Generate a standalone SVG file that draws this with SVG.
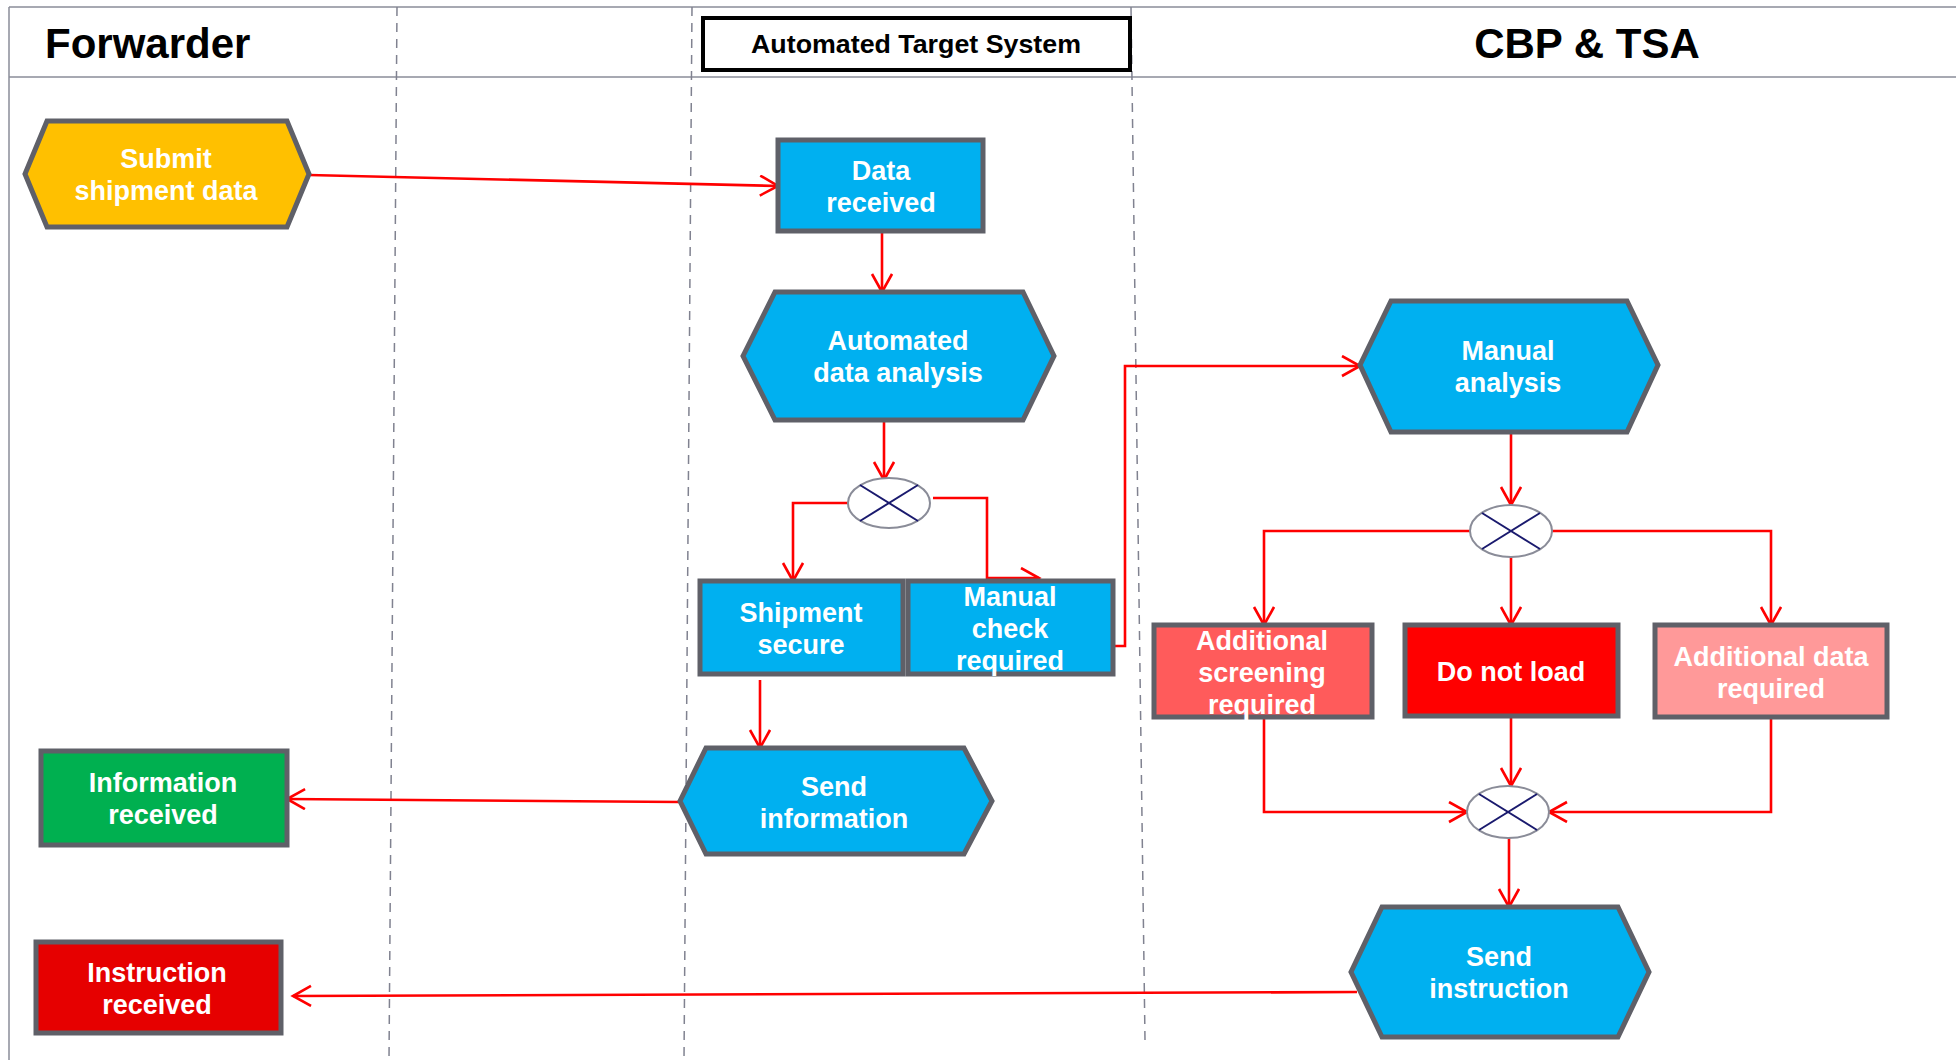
<svg xmlns="http://www.w3.org/2000/svg" width="1956" height="1060" viewBox="0 0 1956 1060">
<style>
.lane{stroke:#8a8c98;stroke-width:1.5;fill:none}
.dash{stroke:#808290;stroke-width:1.5;stroke-dasharray:9,7;fill:none}
.node{stroke:#5f6068;stroke-width:5;stroke-linejoin:miter}
.blue{fill:#00b0f0}
.t{font-family:"Liberation Sans",Arial,sans-serif;font-weight:bold;font-size:27px;fill:#ffffff;text-anchor:middle}
.h{font-family:"Liberation Sans",Arial,sans-serif;font-weight:bold;fill:#000000}
.con{stroke:#ff0000;stroke-width:2.6;fill:none;marker-end:url(#arr)}
.gw{fill:#ffffff;stroke:#8a8c98;stroke-width:2}
.gx{stroke:#1a1a6e;stroke-width:2}
</style>
<defs>
<marker id="arr" markerUnits="userSpaceOnUse" markerWidth="22" markerHeight="24" refX="19" refY="11" orient="auto">
<path d="M1,1 L19,11 L1,21" fill="none" stroke="#ff0000" stroke-width="2.6"/>
</marker>
</defs>
<rect width="1956" height="1060" fill="#ffffff"/>
<g id="lanes">
<line class="lane" x1="9" y1="7" x2="1956" y2="7"/>
<line class="lane" x1="9" y1="77" x2="1956" y2="77"/>
<line class="lane" x1="9" y1="7" x2="9" y2="1060"/>
<line class="dash" x1="397" y1="7" x2="389" y2="1060"/>
<line class="dash" x1="692" y1="7" x2="684" y2="1060"/>
<line class="dash" x1="1131" y1="7" x2="1145" y2="1040"/>
<text class="h" x="45" y="58" font-size="42">Forwarder</text>
<text class="h" x="1587" y="58" font-size="42" text-anchor="middle">CBP &amp; TSA</text>
<rect x="703" y="18" width="427" height="52" fill="#ffffff" stroke="#000000" stroke-width="4"/>
<text class="h" x="916" y="53" font-size="26" text-anchor="middle" textLength="330" lengthAdjust="spacingAndGlyphs">Automated Target System</text>
</g>
<g id="connectors">
<path class="con" d="M309,175 L778,186"/>
<path class="con" d="M882,231 L882,292"/>
<path class="con" d="M884,420 L884,480"/>
<path class="con" d="M848,503 L793,503 L793,581"/>
<path class="con" d="M933,498 L987,498 L987,578 L1039,578"/>
<path class="con" d="M1113,646 L1125,646 L1125,366 L1360,366"/>
<path class="con" d="M760,680 L760,748"/>
<path class="con" d="M680,802 L287,799"/>
<path class="con" d="M1511,432 L1511,505"/>
<path class="con" d="M1470,531 L1264,531 L1264,625"/>
<path class="con" d="M1511,557 L1511,625"/>
<path class="con" d="M1552,531 L1771,531 L1771,625"/>
<path class="con" d="M1264,717 L1264,812 L1467,812"/>
<path class="con" d="M1511,716 L1511,786"/>
<path class="con" d="M1771,717 L1771,812 L1549,812"/>
<path class="con" d="M1509,838 L1509,907"/>
<path class="con" d="M1357,992 L293,996"/>
</g>
<g id="submit">
<polygon class="node" fill="#ffc000" points="25,174 47,121 287,121 309,174 287,227 47,227"/>
<text class="t" x="166" y="168">Submit</text>
<text class="t" x="166" y="200">shipment data</text>
</g>
<g id="data-received">
<rect class="node blue" x="778" y="140" width="205" height="91"/>
<text class="t" x="881" y="180">Data</text>
<text class="t" x="881" y="212">received</text>
</g>
<g id="automated-analysis">
<polygon class="node blue" points="743,356 775,292 1023,292 1054,356 1023,420 775,420"/>
<text class="t" x="898" y="350">Automated</text>
<text class="t" x="898" y="382">data analysis</text>
</g>
<g id="gateway1">
<ellipse class="gw" cx="889" cy="503" rx="41" ry="25"/>
<line class="gx" x1="860" y1="485" x2="918" y2="521"/>
<line class="gx" x1="918" y1="485" x2="860" y2="521"/>
</g>
<g id="shipment-secure">
<rect class="node blue" x="700" y="581" width="203" height="93"/>
<text class="t" x="801" y="622">Shipment</text>
<text class="t" x="801" y="654">secure</text>
</g>
<g id="manual-check">
<rect class="node blue" x="908" y="581" width="205" height="93"/>
<text class="t" x="1010" y="606">Manual</text>
<text class="t" x="1010" y="638">check</text>
<text class="t" x="1010" y="670">required</text>
</g>
<g id="send-information">
<polygon class="node blue" points="680,801 706,748 964,748 992,801 964,854 706,854"/>
<text class="t" x="834" y="796">Send</text>
<text class="t" x="834" y="828">information</text>
</g>
<g id="information-received">
<rect class="node" fill="#00b050" x="41" y="751" width="246" height="94"/>
<text class="t" x="163" y="792">Information</text>
<text class="t" x="163" y="824">received</text>
</g>
<g id="instruction-received">
<rect class="node" fill="#e60000" x="36" y="942" width="245" height="91"/>
<text class="t" x="157" y="982">Instruction</text>
<text class="t" x="157" y="1014">received</text>
</g>
<g id="manual-analysis">
<polygon class="node blue" points="1360,365 1391,301 1627,301 1658,365 1627,432 1391,432"/>
<text class="t" x="1508" y="360">Manual</text>
<text class="t" x="1508" y="392">analysis</text>
</g>
<g id="gateway2">
<ellipse class="gw" cx="1511" cy="531" rx="41" ry="26"/>
<line class="gx" x1="1482" y1="513" x2="1540" y2="549"/>
<line class="gx" x1="1540" y1="513" x2="1482" y2="549"/>
</g>
<g id="additional-screening">
<rect class="node" fill="#ff5b5b" x="1154" y="625" width="218" height="92"/>
<text class="t" x="1262" y="650">Additional</text>
<text class="t" x="1262" y="682">screening</text>
<text class="t" x="1262" y="714">required</text>
</g>
<g id="do-not-load">
<rect class="node" fill="#ff0000" x="1405" y="625" width="213" height="91"/>
<text class="t" x="1511" y="681">Do not load</text>
</g>
<g id="additional-data">
<rect class="node" fill="#ff9999" x="1655" y="625" width="232" height="92"/>
<text class="t" x="1771" y="666">Additional data</text>
<text class="t" x="1771" y="698">required</text>
</g>
<g id="gateway3">
<ellipse class="gw" cx="1508" cy="812" rx="41" ry="26"/>
<line class="gx" x1="1479" y1="794" x2="1537" y2="830"/>
<line class="gx" x1="1537" y1="794" x2="1479" y2="830"/>
</g>
<g id="send-instruction">
<polygon class="node blue" points="1351,972 1382,907 1618,907 1649,972 1618,1037 1382,1037"/>
<text class="t" x="1499" y="966">Send</text>
<text class="t" x="1499" y="998">instruction</text>
</g>
</svg>
